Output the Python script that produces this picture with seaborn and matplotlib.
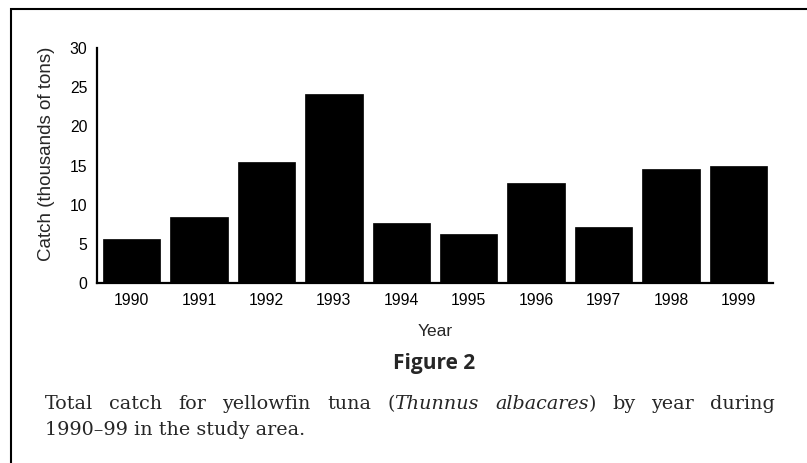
import matplotlib
matplotlib.use('Agg')
import matplotlib.pyplot as plt
import seaborn as sns
import pandas as pd
from matplotlib.patches import Rectangle

years = ['1990', '1991', '1992', '1993', '1994', '1995', '1996', '1997', '1998', '1999']
catch = [5.6, 8.4, 15.5, 24.1, 7.7, 6.2, 12.8, 7.2, 14.5, 15.0]

x_label = 'Year'
y_label = 'Catch (thousands of tons)'
fig_title = 'Figure 2'
caption_line1 = [[('Total', 'normal')], [('catch', 'normal')], [('for', 'normal')],
                 [('yellowfin', 'normal')], [('tuna', 'normal')],
                 [('(', 'normal'), ('Thunnus', 'italic')],
                 [('albacares', 'italic'), (')', 'normal')],
                 [('by', 'normal')], [('year', 'normal')], [('during', 'normal')]]
caption_line2 = '1990\u201399 in the study area.'

sns.set_style('white')
plt.rcParams['font.family'] = ['Liberation Sans', 'DejaVu Sans']

W, H = 807, 463
fig = plt.figure(figsize=(W / 100, H / 100), dpi=100)
ax = fig.add_axes([97 / W, 180 / H, 676 / W, 235 / H])

df = pd.DataFrame({'year': years, 'catch': catch})
sns.barplot(data=df, x='year', y='catch', color='black', saturation=1,
            width=0.85, edgecolor='black', linewidth=0.5, ax=ax)

ax.set_ylim(0, 30)
ax.set_xlim(-0.515, 9.515)
ax.set_yticks(range(0, 31, 5))
ax.tick_params(length=0, labelsize=11.3, pad=7, colors='black')
sns.despine(ax=ax)
for side in ['left', 'bottom']:
    ax.spines[side].set_linewidth(1.6)
    ax.spines[side].set_color('black')

ax.set_xlabel(x_label, fontsize=12.5, labelpad=12)
ax.set_ylabel(y_label, fontsize=13.5, va='center')
ax.yaxis.set_label_coords(-0.075, 0.55)

# figure heading
fig.text(434 / W, 1 - 369 / H, fig_title, ha='center', va='baseline',
         fontsize=15, fontweight='bold', family=['Open Sans', 'DejaVu Sans'])

# caption, first line justified between two edges
serif = ['DejaVu Serif']
cap_size = 13.8
renderer = fig.canvas.get_renderer()
left_px, right_px = 45, 775


def draw_word(x_px, y_px, segs):
    x = x_px
    for s, style in segs:
        t = fig.text(x / W, 1 - y_px / H, s, ha='left', va='baseline',
                     fontsize=cap_size, family=serif, style=style)
        x += t.get_window_extent(renderer).width


widths = []
tmp = []
for segs in caption_line1:
    w = 0
    for s, style in segs:
        t = fig.text(0, 0, s, fontsize=cap_size, family=serif, style=style)
        w += t.get_window_extent(renderer).width
        tmp.append(t)
    widths.append(w)
for t in tmp:
    t.remove()

gap = (right_px - left_px - sum(widths)) / (len(widths) - 1)
x = left_px
for segs, w in zip(caption_line1, widths):
    draw_word(x, 409, segs)
    x += w + gap

fig.text(left_px / W, 1 - 435 / H, caption_line2, ha='left', va='baseline',
         fontsize=cap_size, family=serif)

# frame round the figure (left and top edges visible)
fig.patches.append(Rectangle((11 / W, -0.2), 1.5, 1.2 - 9 / H, transform=fig.transFigure,
                             fill=False, edgecolor='black', linewidth=1.5))

fig.savefig('out.png', dpi=100)
